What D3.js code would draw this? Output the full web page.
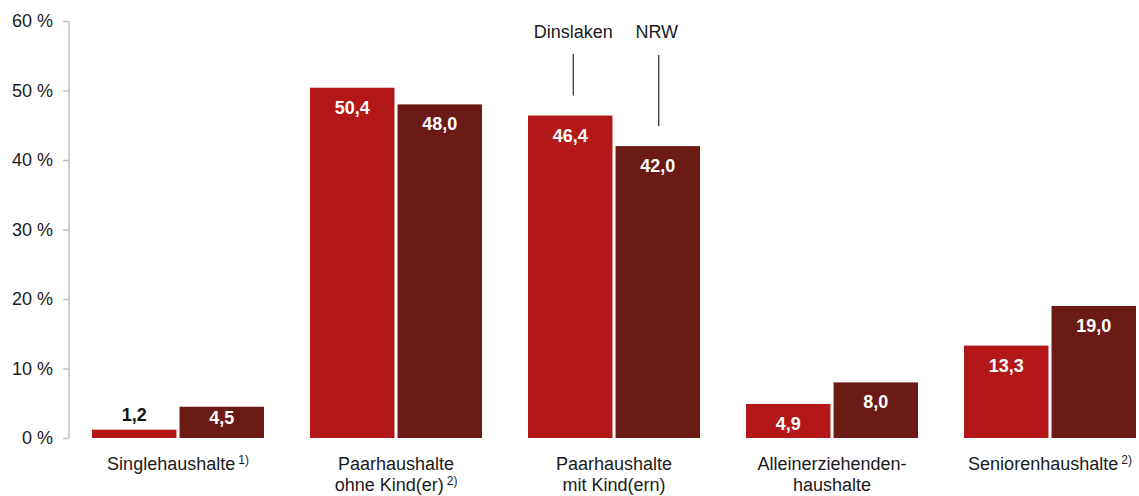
<!DOCTYPE html>
<html><head><meta charset="utf-8">
<script src="https://cdn.jsdelivr.net/npm/d3@7"></script>
<style>body{margin:0;background:#fff}svg{display:block;font-family:"Liberation Sans",Arial,sans-serif}</style>
</head><body><svg id="c" width="1139" height="496"></svg>
<script>
const categories = [["Singlehaushalte","1)"],["Paarhaushalte","ohne Kind(er)","2)"],["Paarhaushalte","mit Kind(ern)"],["Alleinerziehenden-","haushalte"],["Seniorenhaushalte","2)"]];
const seriesNames = ["Dinslaken","NRW"];
const dinslaken = [1.2, 50.4, 46.4, 4.9, 13.3];
const nrw = [4.5, 48.0, 42.0, 8.0, 19.0];
const yTicks = [0,10,20,30,40,50,60];
const colors = ["#B31717","#6B1A16"];
const FS = 18;

const svg = d3.select("#c");
const x0 = d3.scaleBand().domain(d3.range(categories.length)).range([69,1159]).paddingInner(0).paddingOuter(0);
const x1 = d3.scaleBand().domain(seriesNames).range([23, x0.bandwidth()-23]).paddingInner(0.035);
const y = d3.scaleLinear().domain([0,60]).range([438,21]);

const ax = svg.append("g").attr("transform","translate(69,0)").call(d3.axisLeft(y).tickValues(yTicks).tickSize(6).tickPadding(10).tickFormat(d=>d+" %"));
ax.select(".domain").attr("stroke","#c0c0c0").attr("stroke-width",1.5).attr("d","M0,21V438");
ax.selectAll(".tick line").attr("stroke","#c0c0c0").attr("stroke-width",1.5);
ax.selectAll(".tick text").attr("font-size",FS).attr("fill","#1a1a1a").attr("font-family","Liberation Sans, Arial, sans-serif");

const data = [dinslaken, nrw];
categories.forEach((c,i)=>{
  const g = svg.append("g").attr("transform",`translate(${x0(i)},0)`);
  seriesNames.forEach((s,k)=>{
    const v = data[k][i];
    const top = y(v), h = y(0)-top;
    g.append("rect").attr("x",x1(s)).attr("y",top).attr("width",x1.bandwidth()).attr("height",h).attr("fill",colors[k]);
    const lbl = d3.format(".1f")(v).replace(".",",");
    let ly, fill="#fff";
    if (h < 15) { ly = top - 9; fill = "#111"; }
    else if (h < 33) { ly = top + h*0.56; }
    else { ly = top + 26; }
    g.append("text").attr("x",x1(s)+x1.bandwidth()/2).attr("y",ly).attr("text-anchor","middle")
      .attr("font-size",FS).attr("font-weight","bold").attr("fill",fill).text(lbl);
  });
  const cx = x0(i)+x0.bandwidth()/2;
  const lines = c.filter(t=>!/^\d\)$/.test(t));
  const sup = c.find(t=>/^\d\)$/.test(t));
  lines.forEach((t,j)=>{
    const tx = svg.append("text").attr("x",cx).attr("y",470+j*21).attr("text-anchor","middle").attr("font-size",FS).attr("fill","#1a1a1a");
    tx.append("tspan").text(t);
    if (sup && j===lines.length-1) {
      tx.append("tspan").attr("dx",3).attr("dy",-6).attr("font-size",12).text(sup);
    }
  });
});

const gi = 2;
const annTextY = 38, annLineTop = [54,55];
seriesNames.forEach((s,k)=>{
  const cx = x0(gi)+x1(s)+x1.bandwidth()/2 + (k===0?3:1);
  const v = data[k][gi];
  svg.append("text").attr("x",cx - (k===1?2:0)).attr("y",annTextY).attr("text-anchor","middle").attr("font-size",FS).attr("fill","#1a1a1a").text(s);
  svg.append("line").attr("x1",cx).attr("x2",cx).attr("y1",annLineTop[k]).attr("y2",y(v)-20).attr("stroke","#000").attr("stroke-width",1);
});
</script></body></html>
